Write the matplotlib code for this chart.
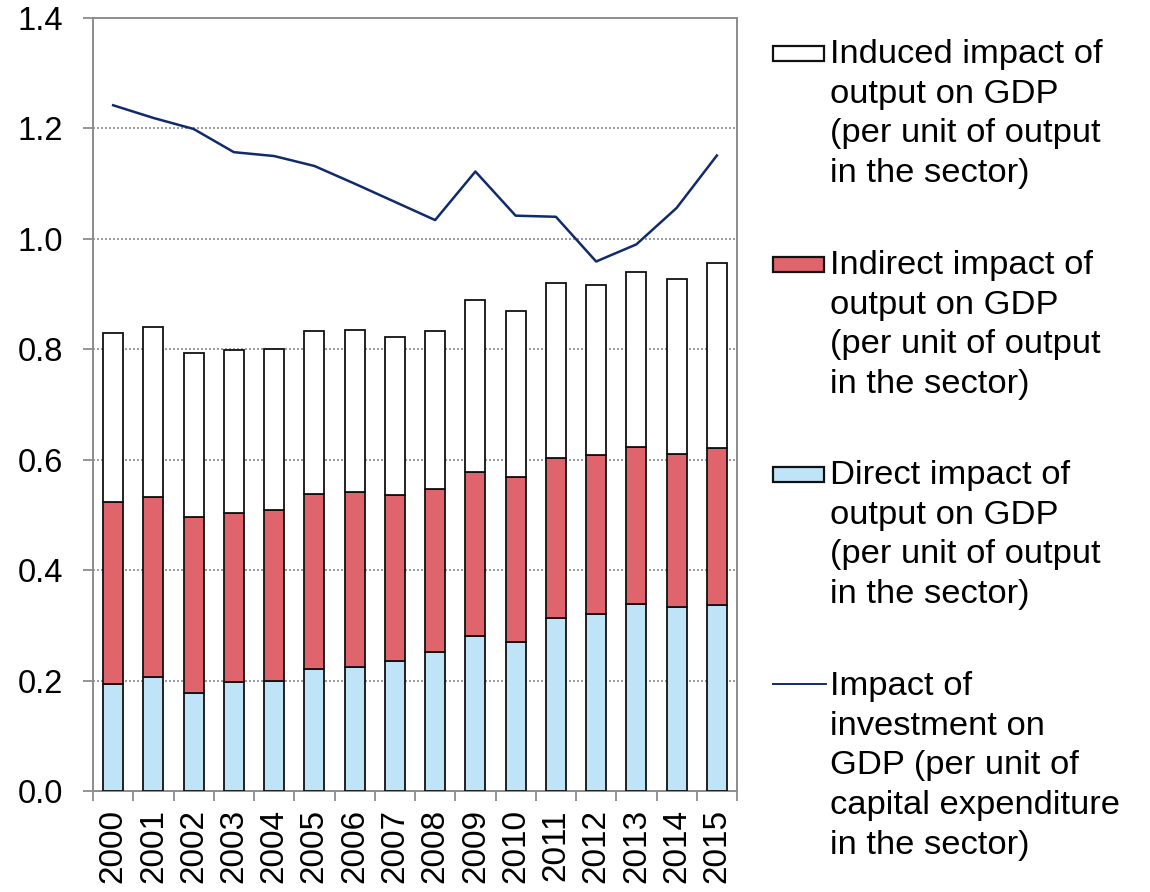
import matplotlib
matplotlib.use("Agg")
import matplotlib.pyplot as plt
from matplotlib.patches import Rectangle
from matplotlib.lines import Line2D
import numpy as np

plt.rcParams['font.family'] = ['Liberation Sans', 'DejaVu Sans']

years = ['2000', '2001', '2002', '2003', '2004', '2005', '2006', '2007',
         '2008', '2009', '2010', '2011', '2012', '2013', '2014', '2015']
direct = [0.194, 0.206, 0.178, 0.197, 0.200, 0.221, 0.225, 0.235,
          0.252, 0.281, 0.269, 0.313, 0.320, 0.339, 0.334, 0.337]
direct_plus_indirect = [0.523, 0.533, 0.497, 0.503, 0.509, 0.538, 0.541, 0.536,
                        0.547, 0.577, 0.569, 0.603, 0.609, 0.623, 0.610, 0.621]
total = [0.830, 0.841, 0.794, 0.798, 0.801, 0.833, 0.835, 0.823,
         0.833, 0.890, 0.870, 0.920, 0.916, 0.940, 0.927, 0.957]
investment = [1.242, 1.219, 1.199, 1.157, 1.150, 1.132, 1.100, 1.067,
              1.034, 1.122, 1.042, 1.040, 0.959, 0.990, 1.056, 1.151]

indirect = [b - a for a, b in zip(direct, direct_plus_indirect)]
induced = [c - b for b, c in zip(direct_plus_indirect, total)]

legend_labels = [
    "Induced impact of\noutput on GDP\n(per unit of output\nin the sector)",
    "Indirect impact of\noutput on GDP\n(per unit of output\nin the sector)",
    "Direct impact of\noutput on GDP\n(per unit of output\nin the sector)",
    "Impact of\ninvestment on\nGDP (per unit of\ncapital expenditure\nin the sector)",
]

C_BLUE = '#C0E4F7'
C_RED = '#E0646C'
C_LINE = '#0F2B6B'
C_AX = '#8C8C8C'

W, H = 1150, 892
fig = plt.figure(figsize=(W / 100, H / 100), dpi=100)
ax = fig.add_axes([93 / W, 1 - 791 / H, (737 - 93) / W, (791 - 18) / H])

x = np.arange(len(years))
bw = 0.5
ekw = dict(edgecolor='#111111', linewidth=1.3, width=bw, zorder=3)
ax.bar(x, direct, color=C_BLUE, **ekw)
ax.bar(x, indirect, bottom=direct, color=C_RED, **ekw)
ax.bar(x, induced, bottom=direct_plus_indirect, color='white', **ekw)
ax.plot(x, investment, color=C_LINE, linewidth=1.8, zorder=4)

ax.set_xlim(-0.5, len(years) - 0.5)
ax.set_ylim(0, 1.4)
ax.set_yticks(np.arange(0, 1.41, 0.2))
ax.set_yticklabels([f"{v:.1f}" for v in np.arange(0, 1.41, 0.2)])
for v in np.arange(0.2, 1.3, 0.2):
    ax.axhline(v, color='#8A8A8A', linewidth=1.2, linestyle=(0, (1.2, 1.2)), zorder=1)

ax.set_xticks(x)
ax.set_xticklabels(years, rotation=90, va='top')
ax.set_xticks(np.arange(-0.5, len(years), 1.0), minor=True)
ax.tick_params(axis='x', which='major', length=0, pad=13, labelsize=24)
ax.tick_params(axis='x', which='minor', length=7.5, width=1.3, color=C_AX, direction='out')
ax.tick_params(axis='y', length=7.5, width=1.3, color=C_AX, direction='out', pad=14, labelsize=23.5)

for s in ax.spines.values():
    s.set_color(C_AX)
    s.set_linewidth(1.4)

# legend drawn in pixel coordinates
lg = fig.add_axes([0, 0, 1, 1])
lg.set_xlim(0, W)
lg.set_ylim(H, 0)
lg.axis('off')
lg.patch.set_alpha(0)
baselines = [65, 276, 486, 697]
fills = ['white', C_RED, C_BLUE, None]
for lab, yb, fc in zip(legend_labels, baselines, fills):
    if fc is not None:
        lg.add_patch(Rectangle((773, yb - 19), 51, 15, facecolor=fc,
                               edgecolor='#111111', linewidth=1.6))
    else:
        lg.add_line(Line2D([773, 826], [yb - 13, yb - 13], color=C_LINE, linewidth=1.4))
    lg.text(830, yb - 26, lab, fontsize=24.8, va='top', ha='left', linespacing=1.36)

fig.savefig('out.png', dpi=100)
